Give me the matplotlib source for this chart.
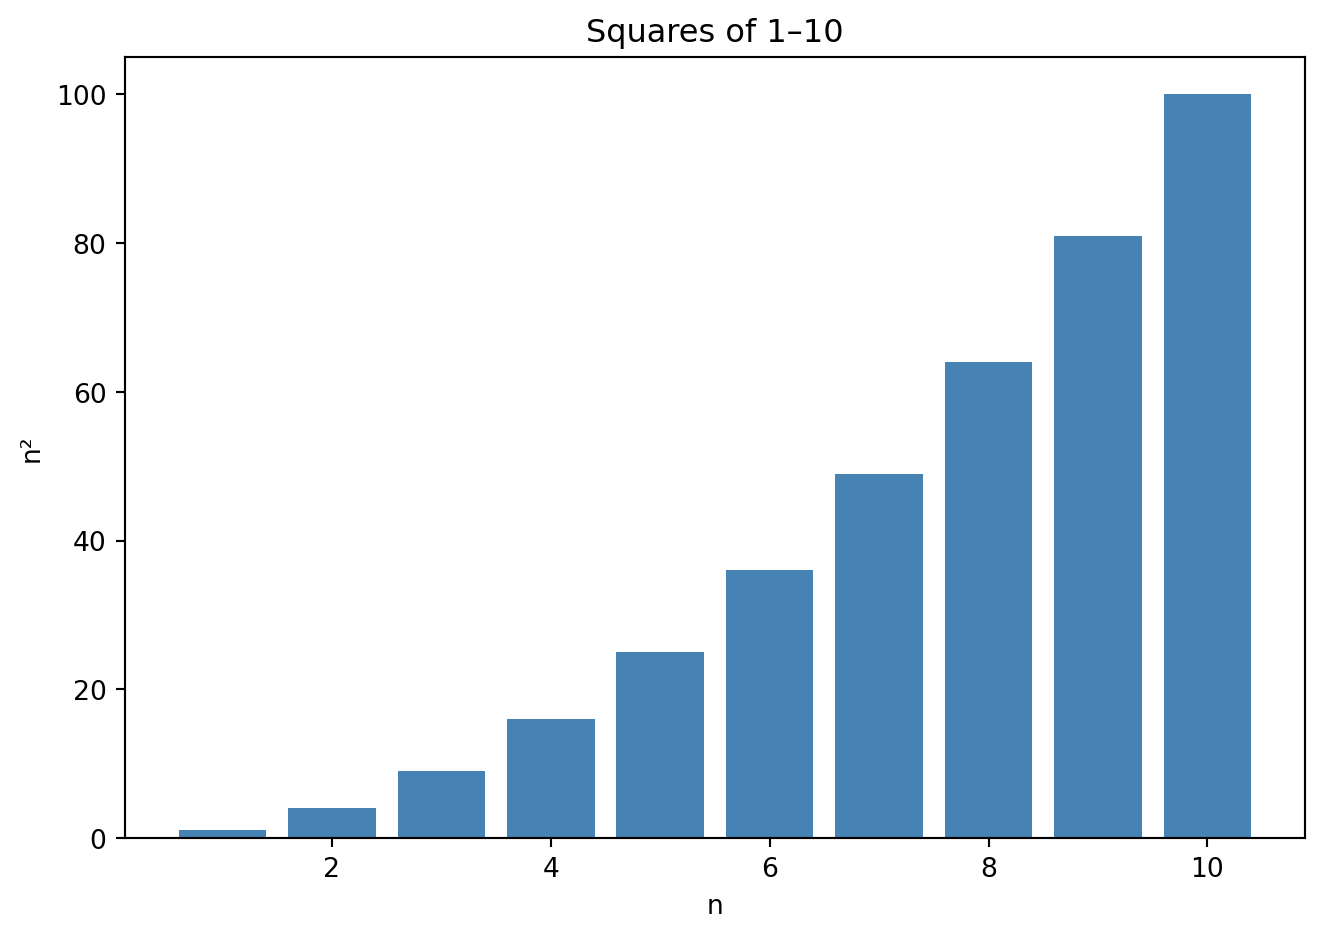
import matplotlib
matplotlib.use("Agg")
import matplotlib.pyplot as plt

## DANE ##
n = [1, 2, 3, 4, 5, 6, 7, 8, 9, 10]
kwadraty = [1, 4, 9, 16, 25, 36, 49, 64, 81, 100]

## WYKRES ##
fig = plt.figure(figsize=(6.9, 4.9), dpi=192)
ax1 = plt.subplot(111)
ax1.bar(n, kwadraty, color='steelblue')
ax1.set_title('Squares of 1–10')
ax1.set_xlabel('n')
ax1.set_ylabel('n²')
plt.subplots_adjust(left=125/1324, right=1304/1324, top=1-58/940, bottom=1-838/940)
plt.savefig('out.png', dpi=192)
